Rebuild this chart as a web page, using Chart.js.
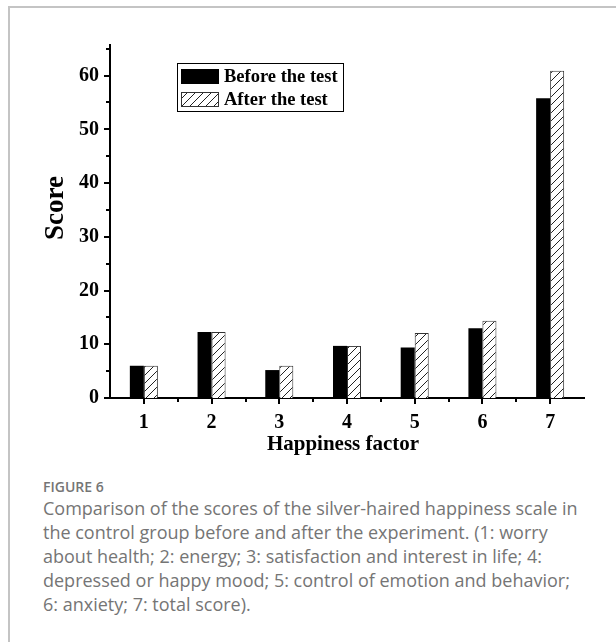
<!DOCTYPE html>
<html>
<head>
<meta charset="utf-8">
<script src="https://cdn.jsdelivr.net/npm/chart.js@4"></script>
<style>
  html, body { margin: 0; padding: 0; background: #fff; }
  body { width: 616px; height: 642px; position: relative; overflow: hidden; }
  .frame { position: absolute; left: 8px; top: 6px; width: 700px; height: 700px;
           border-left: 2px solid #c4c4c4; border-top: 2px solid #c4c4c4; }
  #wrap { position: absolute; left: 0; top: 0; width: 616px; height: 460px; }
  .cap { position: absolute; left: 43px; top: 477px; font-family: "Open Sans", sans-serif; color: #757575; }
  .cap .fig { font-size: 14px; line-height: 19px; font-weight: 600; }
  .cap .txt { font-size: 18px; line-height: 24px; white-space: nowrap; }
</style>
</head>
<body>
<div class="frame"></div>
<div id="wrap"><canvas id="chart" width="616" height="460"></canvas></div>
<div class="cap">
  <div class="fig">FIGURE 6</div>
  <div class="txt">Comparison of the scores of the silver-haired happiness scale in<br>the control group before and after the experiment. (1: worry<br>about health; 2: energy; 3: satisfaction and interest in life; 4:<br>depressed or happy mood; 5: control of emotion and behavior;<br>6: anxiety; 7: total score).</div>
</div>
<script>
const categories = ['1', '2', '3', '4', '5', '6', '7'];
const beforeTest = [6.0, 12.3, 5.2, 9.7, 9.4, 13.0, 55.8];
const afterTest = [6.0, 12.3, 6.0, 9.7, 12.1, 14.4, 60.9];
const yTicks = [0, 10, 20, 30, 40, 50, 60];

const serif = '"Liberation Serif", "Times New Roman", serif';
const ctx = document.getElementById('chart').getContext('2d');

// hachures diagonais
function hatch() {
    const c = document.createElement('canvas');
    c.width = 8; c.height = 8;
    const g = c.getContext('2d');
    g.fillStyle = '#fff';
    g.fillRect(0, 0, 8, 8);
    g.strokeStyle = '#222';
    g.lineWidth = 1;
    g.beginPath();
    g.moveTo(0, 8); g.lineTo(8, 0);
    g.moveTo(-1, 1); g.lineTo(1, -1);
    g.moveTo(7, 9); g.lineTo(9, 7);
    g.stroke();
    return ctx.createPattern(c, 'repeat');
}
const hatchFill = hatch();

// marcas dos eixos, títulos e legenda
const extras = {
    id: 'extras',
    afterDraw(chart) {
        const c = chart.ctx, a = chart.chartArea;
        const x = chart.scales.x, y = chart.scales.y;
        c.save();
        c.strokeStyle = '#000';
        c.lineWidth = 2;
        c.beginPath();
        for (let v = 0; v <= 65; v += 5) {
            const py = Math.round(y.getPixelForValue(v));
            c.moveTo(a.left, py);
            c.lineTo(a.left - (v % 10 === 0 ? 6 : 4), py);
        }
        for (let i = 0; i < categories.length; i++) {
            const px = Math.round(x.getPixelForValue(i));
            c.moveTo(px, a.bottom);
            c.lineTo(px, a.bottom + 6);
            if (i < categories.length - 1) {
                const mx = Math.round((px + x.getPixelForValue(i + 1)) / 2);
                c.moveTo(mx, a.bottom);
                c.lineTo(mx, a.bottom + 4);
            }
        }
        c.stroke();

        c.fillStyle = '#000';
        c.font = 'bold 27px ' + serif;
        c.textAlign = 'center';
        c.textBaseline = 'middle';
        c.save();
        c.translate(56, 208);
        c.rotate(-Math.PI / 2);
        c.fillText('Score', 0, 0);
        c.restore();
        c.font = 'bold 21px ' + serif;
        c.fillText('Happiness factor', 343, 445);

        // legenda
        c.lineWidth = 1;
        c.strokeRect(177.5, 63.5, 166, 48);
        const ds = chart.data.datasets;
        const rows = [69, 92];
        c.font = 'bold 18.5px ' + serif;
        c.textAlign = 'left';
        ds.forEach((d, i) => {
            c.fillStyle = d.backgroundColor;
            c.fillRect(181, rows[i], 38, 15);
            if (d.borderWidth) {
                c.strokeStyle = '#333';
                c.strokeRect(181.5, rows[i] + 0.5, 37, 14);
            }
            c.fillStyle = '#000';
            c.fillText(d.label, 224, rows[i] + 8);
        });
        c.restore();
    }
};

new Chart(ctx, {
    type: 'bar',
    data: {
        labels: categories,
        datasets: [{
            label: 'Before the test',
            data: beforeTest,
            backgroundColor: '#000',
            borderWidth: 0
        }, {
            label: 'After the test',
            data: afterTest,
            backgroundColor: hatchFill,
            borderColor: '#333',
            borderWidth: 1
        }]
    },
    options: {
        responsive: false,
        animation: false,
        layout: { padding: { top: 45, right: 32, left: 0, bottom: 0 } },
        categoryPercentage: 0.414,
        barPercentage: 1,
        plugins: { legend: { display: false }, tooltip: { enabled: false } },
        scales: {
            x: {
                afterFit(s) { s.height = 62; },
                grid: { display: false, drawTicks: false },
                border: { display: true, color: '#000', width: 2 },
                ticks: { color: '#000', padding: 13, font: { family: serif, size: 20, weight: 'bold' } }
            },
            y: {
                min: 0,
                max: 65.7,
                afterFit(s) { s.width = 110; },
                afterBuildTicks(s) { s.ticks = yTicks.map(v => ({ value: v })); },
                grid: { display: false, drawTicks: false },
                border: { display: true, color: '#000', width: 2 },
                ticks: { color: '#000', padding: 11, font: { family: serif, size: 20, weight: 'bold' } }
            }
        }
    },
    plugins: [extras]
});
</script>
</body>
</html>
